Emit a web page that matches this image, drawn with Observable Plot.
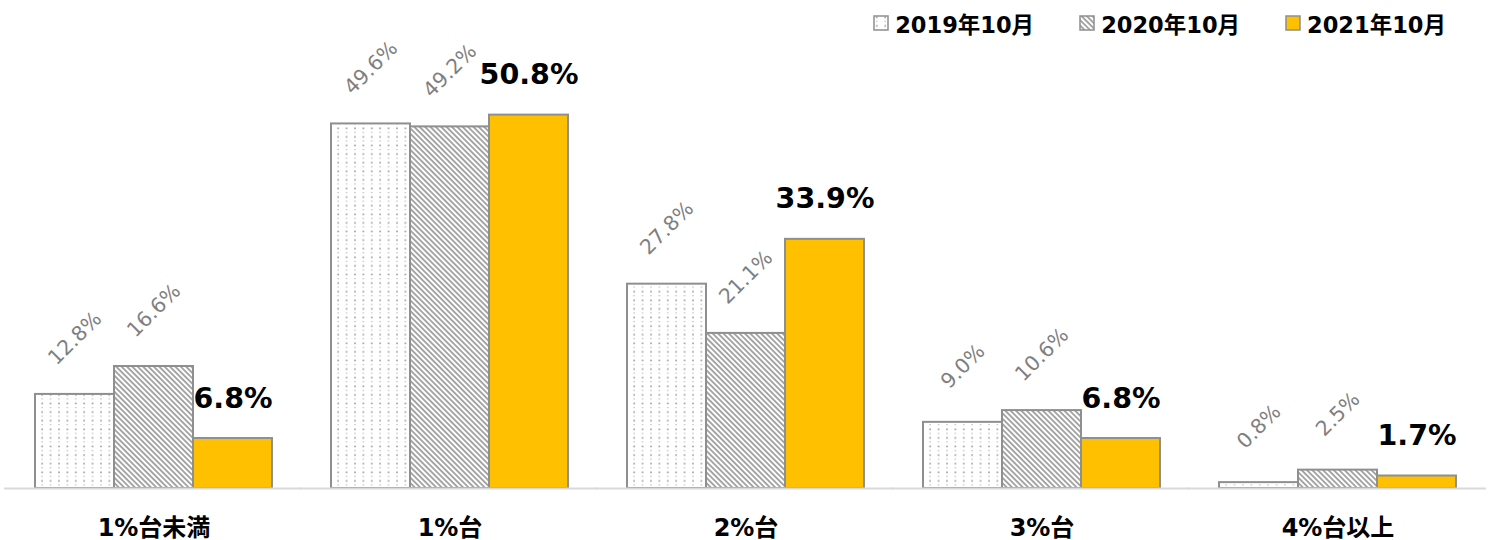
<!DOCTYPE html>
<html>
<head>
<meta charset="utf-8">
<script src="https://cdn.jsdelivr.net/npm/d3@7"></script>
<script src="https://cdn.jsdelivr.net/npm/@observablehq/plot@0.6"></script>
<style>
  body { margin: 0; background: #fff; font-family: "DejaVu Sans", "Noto Sans CJK JP", sans-serif; }
  #legend { height: 40px; display: flex; justify-content: flex-end; align-items: center; padding-right: 45px; box-sizing: border-box; padding-top: 5px; }
  .item { display: flex; align-items: center; margin-left: 45px; font-weight: bold; font-size: 22.5px; color: #000; }
  .item svg { margin-right: 6px; }
  #chart svg { overflow: visible; display: block; }
</style>
</head>
<body>
<div id="legend"></div>
<div id="chart"></div>
<script>
const categories = ["1%台未満", "1%台", "2%台", "3%台", "4%台以上"];
const series = ["2019年10月", "2020年10月", "2021年10月"];
const v2019 = [12.8, 49.6, 27.8, 9.0, 0.8];
const v2020 = [16.6, 49.2, 21.1, 10.6, 2.5];
const v2021 = [6.8, 50.8, 33.9, 6.8, 1.7];

const fills = ["url(#dots)", "url(#hatch)", "#FFC000"];
const valuesBySeries = [v2019, v2020, v2021];
const data = [];
series.forEach((s, si) => categories.forEach((c, ci) => data.push({cat: c, series: s, value: valuesBySeries[si][ci]})));
const bySeries = s => data.filter(d => d.series === s);

const stroke = "#8f8f8f";
const chart = Plot.plot({
  width: 1491,
  height: 500,
  marginTop: 7,
  marginBottom: 52,
  marginLeft: 5,
  marginRight: 6,
  style: {fontFamily: '"DejaVu Sans", "Noto Sans CJK JP", sans-serif', background: "transparent"},
  fx: {domain: categories, paddingInner: 0.2, paddingOuter: 0.1, axis: null, label: null},
  x: {domain: series, axis: null, padding: 0},
  y: {domain: [0, 60], axis: null},
  marks: [
    ...series.map((s, i) => Plot.barY(bySeries(s), {fx: "cat", x: "series", y: "value", fill: fills[i], stroke, strokeWidth: 2})),
    Plot.ruleY([0], {stroke: "#d9d9d9", strokeWidth: 2, insetLeft: -31, insetRight: -30}),
    Plot.text(data.filter(d => d.series !== series[2]), {
      fx: "cat", x: "series", y: "value", text: d => d.value.toFixed(1) + "%",
      rotate: -45, dy: -56, fill: "#7f7f7f", fontSize: 20.5, textAnchor: "middle", lineAnchor: "middle"
    }),
    Plot.text(bySeries(series[2]), {
      fx: "cat", x: "series", y: "value", text: d => d.value.toFixed(1) + "%",
      dy: -40, fill: "#000", fontSize: 28.5, fontWeight: "bold", textAnchor: "middle", lineAnchor: "middle"
    }),
    Plot.text(categories, {
      fx: d => d, text: d => d, frameAnchor: "bottom", dy: 40,
      fontSize: 24, fontWeight: "bold", fill: "#000", lineAnchor: "middle",
      fontFamily: '"DejaVu Sans", "Noto Sans CJK JP", sans-serif'
    })
  ]
});

// pattern definitions
const defs = d3.select(chart).insert("defs", ":first-child");
const dots = defs.append("pattern").attr("id", "dots").attr("patternUnits", "userSpaceOnUse")
  .attr("width", 8.4).attr("height", 8.6);
dots.append("rect").attr("width", 8.4).attr("height", 8.6).attr("fill", "#fff");
dots.append("rect").attr("x", 3).attr("y", 1.5).attr("width", 1.6).attr("height", 1.6).attr("fill", "#999");
dots.append("rect").attr("x", 3).attr("y", 5.8).attr("width", 1.5).attr("height", 1.1).attr("fill", "#bbb");
const hatch = defs.append("pattern").attr("id", "hatch").attr("patternUnits", "userSpaceOnUse")
  .attr("width", 3.8).attr("height", 10).attr("patternTransform", "rotate(-45)");
hatch.append("rect").attr("width", 3.8).attr("height", 10).attr("fill", "#fff");
hatch.append("line").attr("x1", 1).attr("x2", 1).attr("y1", 0).attr("y2", 10).attr("stroke", "#8c8c8c").attr("stroke-width", 1.5);

document.getElementById("chart").appendChild(chart);

// legend
const legend = d3.select("#legend");
series.forEach((s, i) => {
  const item = legend.append("div").attr("class", "item");
  const sw = item.append("svg").attr("width", 16).attr("height", 16);
  sw.append("rect").attr("x", 1).attr("y", 1).attr("width", 14).attr("height", 14)
    .attr("fill", fills[i]).attr("stroke", stroke).attr("stroke-width", 1.5);
  item.append("span").text(s);
});
</script>
</body>
</html>
